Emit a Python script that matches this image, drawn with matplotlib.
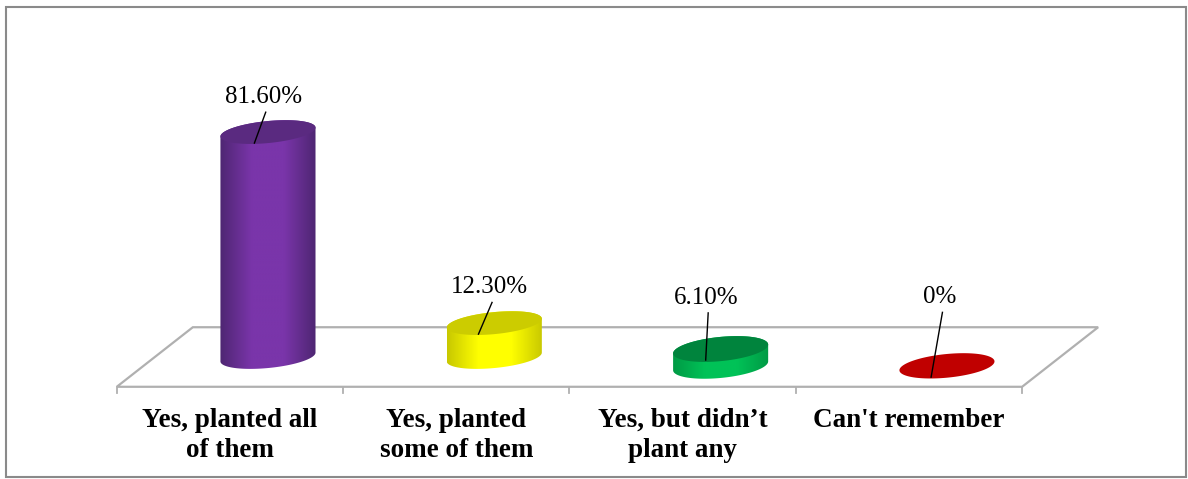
import numpy as np
import matplotlib
matplotlib.use("Agg")
import matplotlib.pyplot as plt
from matplotlib.patches import Polygon, Rectangle
from matplotlib.colors import LinearSegmentedColormap

# data
categories = ["Yes, planted all\nof them", "Yes, planted\nsome of them",
              "Yes, but didn\u2019t\nplant any", "Can't remember"]
values = [81.6, 12.3, 6.1, 0.0]
value_labels = ["81.60%", "12.30%", "6.10%", "0%"]

# colours: (edge of body, bright part of body, top)
colours = [("#4e2672", "#7a35aa", "#5a2a80"),
           ("#c8c800", "#ffff00", "#cccc00"),
           ("#009a45", "#00c257", "#00843d"),
           ("#a00000", "#d00000", "#c00000")]

# layout tweaks: perspective drop of base, label offsets, leader ends
base_dy = [0.0, 0.0, -3.2, -3.2]
ell_b = [4.0, 4.0, 4.4, 4.3]
lab_dx = [-0.02, -0.02, -0.065, -0.03]
lab_y = [94.3, 25.3, 21.5, 21.7]      # centre of value label, axis units
lead_end_dx = [-0.06, -0.07, -0.066, -0.07]

fig = plt.figure(figsize=(11.88, 4.79), dpi=100)
ax = fig.add_axes([0, 0, 1, 1])
ax.set_xlim(-1.184, 4.065)
ax.set_ylim(-44.25, 129.5)
ax.axis("off")

serif = "Liberation Serif"
n = len(values)
dx, dy = 0.168, 10.8   # half depth of floor
gcol = "#b0b0b0"

# floor
floor = Polygon([(-0.5 - dx, -dy), (n - 0.5 - dx, -dy), (n - 0.5 + dx, dy), (-0.5 + dx, dy)],
                closed=True, facecolor="white", edgecolor=gcol, lw=1.6, zorder=1)
ax.add_patch(floor)
for k in range(n + 1):
    ax.plot([k - 0.5 - dx, k - 0.5 - dx], [-dy, -dy - 2.3], color=gcol, lw=1.3, zorder=1)

# category labels
for i, c in enumerate(categories):
    ax.text(i - dx, -dy - 7.6, c, ha="center", va="top", fontsize=19.5, fontweight="bold",
            family=serif, linespacing=1.3, zorder=5)

# cylinders
a = 0.21      # half width
tilt = 1.6    # right side higher
t = np.linspace(0, 2 * np.pi, 200)

for i, v in enumerate(values):
    edge, bright, top = colours[i]
    cx = i
    y0 = base_dy[i]
    b = ell_b[i]
    if v > 0:
        tb = np.linspace(np.pi, 2 * np.pi, 100)
        bot = np.column_stack([cx + a * np.cos(tb), y0 + b * np.sin(tb) + tilt * np.cos(tb)])
        tt = np.linspace(0, np.pi, 100)
        up = np.column_stack([cx + a * np.cos(tt), y0 + v + b * np.sin(tt) + tilt * np.cos(tt)])
        body = np.vstack([bot, up])
        body_patch = Polygon(body, closed=True, facecolor="none", edgecolor="none")
        ax.add_patch(body_patch)
        cmap = LinearSegmentedColormap.from_list("c%d" % i, [edge, bright, bright, edge])
        grad = np.linspace(0, 1, 256).reshape(1, -1)
        im = ax.imshow(grad, cmap=cmap, aspect="auto",
                       extent=[cx - a, cx + a, y0 - b - tilt - 1, y0 + v + b + tilt + 1],
                       interpolation="bilinear", zorder=2)
        im.set_clip_path(body_patch)
    top_pts = np.column_stack([cx + a * np.cos(t), y0 + v + b * np.sin(t) + tilt * np.cos(t)])
    ax.add_patch(Polygon(top_pts, closed=True, facecolor=top, edgecolor="none", zorder=3))

# value labels and leader lines
for i, v in enumerate(values):
    ly = lab_y[i]
    ax.text(i + lab_dx[i], ly, value_labels[i], ha="center", va="center",
            fontsize=18, family=serif, zorder=5)
    if v > 0:
        end_y = base_dy[i] + v - 4.0
    else:
        end_y = base_dy[i] - ell_b[i] + 0.2
    ax.plot([i + lab_dx[i] + 0.01, i + lead_end_dx[i]], [ly - 5.5, end_y],
            color="black", lw=1.0, zorder=4)

# outer border
fig.patches.append(Rectangle((6 / 1188, 2 / 479), 1180 / 1188, 470 / 479,
                             transform=fig.transFigure, fill=False,
                             edgecolor="#8a8a8a", lw=1.5))

fig.savefig("out.png", dpi=100)
